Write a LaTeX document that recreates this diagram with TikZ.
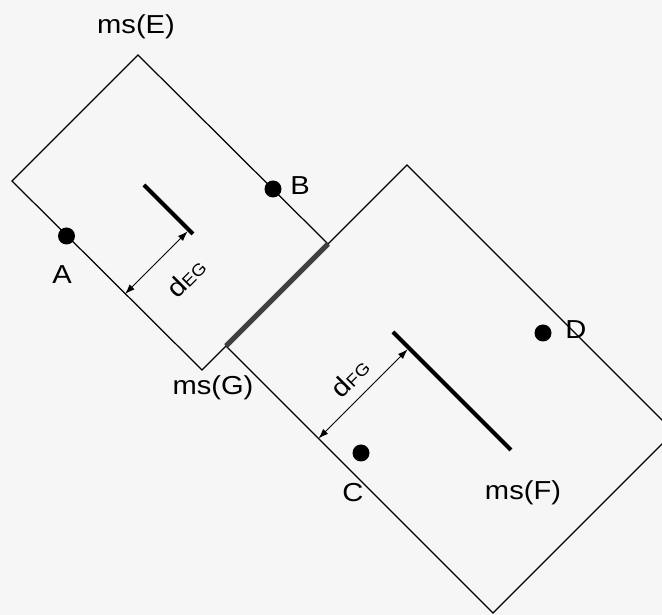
\documentclass[tikz,border=0pt]{standalone}
\usepackage{fontspec}
\setmainfont{Liberation Sans}[FakeStretch=1.12]
\usepackage{xcolor}
\usepackage{tikz}
\usetikzlibrary{positioning,arrows.meta,calc}
\definecolor{paper}{RGB}{246,246,246}
\definecolor{gapcolor}{RGB}{64,64,64}
\tikzset{
  region/.style={
    draw=black,
    line width=0.7pt
  },
  msline/.style={
    line width=2.3pt,
    line cap=butt
  },
  msgap/.style={
    draw=gapcolor,
    line width=2.9pt
  },
  point/.style={
    circle,
    fill=black,
    minimum size=0.34cm,
    inner sep=0pt
  },
  tag/.style={
    font=\fontsize{14.8}{16}\selectfont,
    inner sep=1pt
  },
  dist/.style={
    <->,
    >={Latex[length=2mm,width=1.4mm]},
    line width=0.55pt
  }
}

\begin{document}
\begin{tikzpicture}
  % page and paper colour
  \useasboundingbox (0,0) rectangle (13.24,12.3);
  \fill[paper] (0,0) rectangle (13.24,12.3);
  \clip (0,0) rectangle (13.24,12.3);

  % corners of ms(E)
  \coordinate (Etop) at (2.76,11.2);
  \coordinate (Eleft) at (0.24,8.68);
  \coordinate (Ebot) at (4.04,4.9);
  \coordinate (Eright) at (6.56,7.42);
  % corners of ms(F)
  \coordinate (Fleft) at (4.52,5.38);
  \coordinate (Ftop) at (8.14,9.0);
  \coordinate (Fright) at (13.48,3.66);
  \coordinate (Fbot) at (9.86,0.04);

  % regions
  \draw[region] (Etop) -- (Eleft) -- (Ebot) -- (Eright) -- cycle;
  \draw[region] (Fleft) -- (Ftop) -- (Fright) -- (Fbot) -- cycle;

  % shared border ms(G)
  \draw[msgap] (Fleft) -- (Eright);

  % medial segments
  \coordinate (msE1) at (2.88,8.6);
  \coordinate (msE2) at (3.86,7.62);
  \coordinate (msF1) at (7.86,5.66);
  \coordinate (msF2) at (10.22,3.3);
  \draw[msline] (msE1) -- (msE2);
  \draw[msline] (msF1) -- (msF2);

  % distances
  \coordinate (dEGin) at (3.78,7.7);
  \coordinate (dEGout) at (2.5,6.42);
  \coordinate (dFGin) at (8.18,5.34);
  \coordinate (dFGout) at (6.37,3.53);
  \draw[dist, shorten >=1.1pt] (dEGout) -- (dEGin);
  \draw[dist, shorten >=1.1pt] (dFGout) -- (dFGin);
  \node[tag, rotate=45] (dEG) at (3.72,6.74) {d{\fontsize{9.5}{10}\selectfont EG}};
  \node[tag, rotate=45] (dFG) at (7.0,4.74) {d{\fontsize{9.5}{10}\selectfont FG}};

  % sample points
  \node[point] (A) at (1.33,7.58) {};
  \node[point] (B) at (5.46,8.52) {};
  \node[point] (C) at (7.22,3.24) {};
  \node[point] (D) at (10.86,5.64) {};
  \node[tag] (Alabel) at (1.24,6.8) {A};
  \node[tag] (Blabel) at (6.0,8.58) {B};
  \node[tag] (Clabel) at (7.06,2.44) {C};
  \node[tag] (Dlabel) at (11.52,5.7) {D};

  % region names
  \node[tag] (msE) at (2.72,11.76) {ms(E)};
  \node[tag] (msG) at (4.26,4.54) {ms(G)};
  \node[tag] (msF) at (10.46,2.44) {ms(F)};
\end{tikzpicture}
\end{document}
